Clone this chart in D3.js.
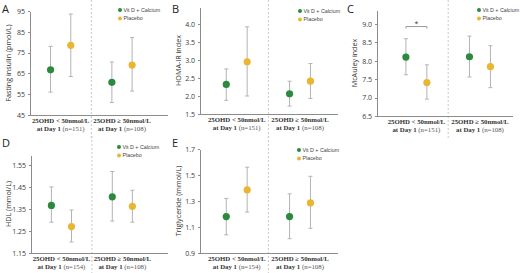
<!DOCTYPE html>
<html lang="en">
<head>
  <meta charset="UTF-8">
  <title>Vit D + Calcium vs Placebo</title>
  <script src="https://cdn.jsdelivr.net/npm/d3@7"></script>
  <style>
    body { margin: 0; background: #fff; }
    svg text { font-family: "Open Sans", "Liberation Sans", sans-serif; fill: #333; }
    .axis path, .axis line { stroke: #8c8c8c; shape-rendering: crispEdges; }
    .axis text { font-size: 7px; fill: #3a3a3a; }
    .ytitle { font-size: 7.2px; }
    .letter { font-size: 11px; fill: #222; }
    svg text.cat { font-family: "Liberation Serif", "DejaVu Serif", serif; font-size: 6.8px; font-weight: bold; fill: #333; }
    svg text.cat .n { font-weight: normal; fill: #555; }
    .legend text { font-family: "Liberation Sans", sans-serif; font-size: 5.3px; fill: #444; }
    .divider { stroke: #c8c8c8; stroke-dasharray: 2,2; }
    .err { stroke: #b3b3b3; stroke-width: 1; }
  </style>
</head>
<body>
<svg width="520" height="273"></svg>
<script>
  // categories & series
  const groups = ["25OHD < 50nmol/L", "25OHD \u2265 50nmol/L"];
  const nTop = ["(n=151)", "(n=108)"];
  const nBottom = ["(n=154)", "(n=108)"];
  const seriesNames = ["Vit D + Calcium", "Placebo"];
  const seriesColors = ["#2b8a3e", "#e8b631"];

  // values: [group, series, mean, low, high]
  const fastingInsulin = [
    [0, 0, 66.7, 56.0, 78.0], [0, 1, 78.5, 63.5, 93.5],
    [1, 0, 60.7, 51.0, 70.5], [1, 1, 69.0, 56.5, 82.2]
  ];
  const homaIR = [
    [0, 0, 2.32, 1.88, 2.75], [0, 1, 2.95, 2.00, 3.92],
    [1, 0, 2.06, 1.72, 2.41], [1, 1, 2.41, 1.93, 2.90]
  ];
  const mcAuley = [
    [0, 0, 8.10, 7.62, 8.60], [0, 1, 7.41, 6.96, 7.89],
    [1, 0, 8.11, 7.56, 8.67], [1, 1, 7.84, 7.27, 8.41]
  ];
  const hdl = [
    [0, 0, 1.366, 1.29, 1.45], [0, 1, 1.27, 1.20, 1.345],
    [1, 0, 1.405, 1.295, 1.52], [1, 1, 1.362, 1.29, 1.435]
  ];
  const triglyceride = [
    [0, 0, 1.18, 1.04, 1.32], [0, 1, 1.385, 1.215, 1.56],
    [1, 0, 1.18, 1.01, 1.355], [1, 1, 1.285, 1.09, 1.49]
  ];

  // tick labels
  const ticksA = [45, 55, 65, 75, 85, 95];
  const ticksB = [1.5, 2.0, 2.5, 3.0, 3.5, 4.0];
  const ticksC = [6.5, 7.0, 7.5, 8.0, 8.5, 9.0];
  const ticksD = [1.15, 1.25, 1.35, 1.45, 1.55];
  const ticksE = [0.9, 1.1, 1.3, 1.5, 1.7];

  const svg = d3.select("svg");

  // panel layout (pixels) + which data it uses
  const panels = [
    { letter: "A", lx: 2, ly: 13, data: fastingInsulin, ticks: ticksA, fmt: "d", title: "Fasting insulin (pmol/L)",
      x0: 30, x1: 168, y0: 115, y1: 11, ydom: [45, 95], xdom: [-0.5, 1.75], tx: 8, leg: [120, 10], n: nTop, top: 0, bottom: 140 },
    { letter: "B", lx: 172, ly: 13, data: homaIR, ticks: ticksB, fmt: ".1f", title: "HOMA-IR index",
      x0: 200, x1: 338, y0: 114, y1: 7, ydom: [1.5, 4.47], xdom: [-0.58, 1.6], tx: 178, leg: [300, 11], n: nTop, top: 0, bottom: 140 },
    { letter: "C", lx: 347, ly: 13, data: mcAuley, ticks: ticksC, fmt: ".1f", title: "McAuley index",
      x0: 377, x1: 513, y0: 116, y1: 10, ydom: [6.5, 9.38], xdom: [-0.62, 1.52], tx: 354, leg: [479, 10], n: nTop, top: 0, bottom: 140,
      sig: { group: 0, y: 8.93 } },
    { letter: "D", lx: 2, ly: 147, data: hdl, ticks: ticksD, fmt: ".2f", title: "HDL (mmol/L)",
      x0: 31, x1: 168, y0: 253, y1: 155, ydom: [1.15, 1.595], xdom: [-0.5, 1.75], tx: 8, leg: [119, 147], n: nBottom, top: 136, bottom: 273 },
    { letter: "E", lx: 172, ly: 147, data: triglyceride, ticks: ticksE, fmt: ".1f", title: "Triglyceride (mmol/L)",
      x0: 200, x1: 338, y0: 253, y1: 149, ydom: [0.9, 1.7], xdom: [-0.58, 1.6], tx: 178, leg: [299, 150], n: nBottom, top: 136, bottom: 273 }
  ];

  const off = 0.165; // series offset inside a group, in group units

  panels.forEach(p => {
    const g = svg.append("g");
    const x = d3.scaleLinear().domain(p.xdom).range([p.x0, p.x1]);
    const y = d3.scaleLinear().domain(p.ydom).range([p.y0, p.y1]);

    g.append("text").attr("class", "letter").attr("x", p.lx).attr("y", p.ly).text(p.letter);

    // dashed divider between groups
    g.append("line").attr("class", "divider")
      .attr("x1", x(0.5)).attr("x2", x(0.5))
      .attr("y1", p.top).attr("y2", p.bottom);

    // y axis
    g.append("g").attr("class", "axis")
      .attr("transform", `translate(${p.x0},0)`)
      .call(d3.axisLeft(y).tickValues(p.ticks).tickFormat(d3.format(p.fmt))
        .tickSizeInner(2).tickSizeOuter(0).tickPadding(3));

    // x axis line
    g.append("line").attr("x1", p.x0).attr("x2", p.x1)
      .attr("y1", p.y0 + 0.5).attr("y2", p.y0 + 0.5)
      .attr("stroke", "#8c8c8c");

    // y title
    g.append("text").attr("class", "ytitle")
      .attr("transform", `translate(${p.tx},${(p.y0 + p.y1) / 2}) rotate(-90)`)
      .attr("text-anchor", "middle").attr("dy", "0.35em").text(p.title);

    // category labels
    groups.forEach((name, i) => {
      const cx = x(i);
      const t = g.append("text").attr("class", "cat").attr("text-anchor", "middle");
      t.append("tspan").attr("x", cx).attr("y", p.y0 + 8).text(name);
      t.append("tspan").attr("x", cx).attr("y", p.y0 + 15.5).text("at Day 1 ");
      t.append("tspan").attr("class", "n").text(p.n[i]);
    });

    const px = d => x(d[0] + (d[1] === 0 ? -off : off));

    // error bars
    const eb = g.selectAll(".eb").data(p.data).join("g");
    eb.append("line").attr("class", "err")
      .attr("x1", px).attr("x2", px)
      .attr("y1", d => y(d[3])).attr("y2", d => y(d[4]));
    eb.append("line").attr("class", "err")
      .attr("x1", d => px(d) - 2).attr("x2", d => px(d) + 2)
      .attr("y1", d => y(d[3])).attr("y2", d => y(d[3]));
    eb.append("line").attr("class", "err")
      .attr("x1", d => px(d) - 2).attr("x2", d => px(d) + 2)
      .attr("y1", d => y(d[4])).attr("y2", d => y(d[4]));

    // points
    g.selectAll(".pt").data(p.data).join("circle")
      .attr("cx", px).attr("cy", d => y(d[2])).attr("r", 3.6)
      .attr("fill", d => seriesColors[d[1]]);

    // significance bracket
    if (p.sig) {
      const xa = x(p.sig.group - off), xb = x(p.sig.group + off), yy = y(p.sig.y);
      g.append("path")
        .attr("d", `M${xa},${yy + 2}V${yy}H${xb}V${yy + 2}`)
        .attr("fill", "none").attr("stroke", "#999");
      g.append("text").attr("x", (xa + xb) / 2).attr("y", yy - 1)
        .attr("text-anchor", "middle").attr("font-size", 7).text("*");
    }

    // legend
    const lg = g.append("g").attr("class", "legend")
      .attr("transform", `translate(${p.leg[0]},${p.leg[1]})`);
    seriesNames.forEach((s, i) => {
      lg.append("circle").attr("cx", 0).attr("cy", i * 8.5).attr("r", 2)
        .attr("fill", seriesColors[i]);
      lg.append("text").attr("x", 3.5).attr("y", i * 8.5).attr("dy", "0.35em").text(s);
    });
  });
</script>
</body>
</html>
